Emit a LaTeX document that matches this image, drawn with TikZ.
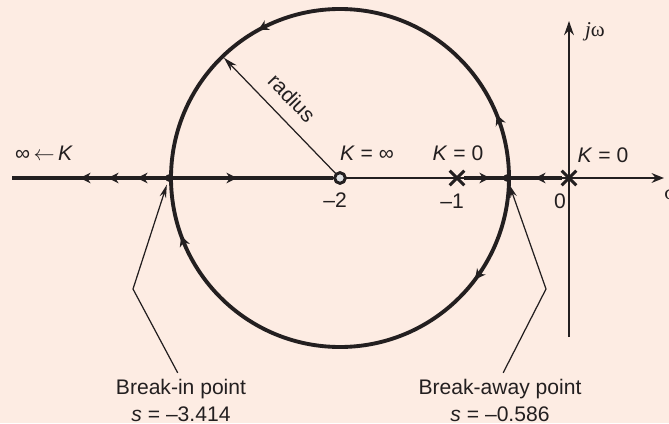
\documentclass[tikz,border=0pt]{standalone}
\usepackage{fontspec}
\setmainfont{Liberation Sans}
\newfontfamily\serifgreek{Liberation Serif}
\usepackage{tikz}
\usetikzlibrary{arrows.meta, calc, shapes.misc}
\definecolor{mybg}{RGB}{253,236,227}
\definecolor{myink}{RGB}{35,31,32}
\definecolor{mygray}{RGB}{222,224,226}
\tikzset{
  locus/.style={line width=2.7pt, color=myink},
  ring/.style={line width=2.2pt, color=myink},
  axis/.style={line width=1.3pt, color=myink},
  flow/.style={-{Stealth[length=6pt, width=6pt]}},
  pointer/.style={line width=0.7pt, color=myink, -{Stealth[length=7.5pt, width=3.8pt]}},
  pole/.style={cross out, draw=myink, line width=1.8pt, minimum size=2.3mm, inner sep=0pt},
  zero/.style={circle, draw=myink, fill=mygray, line width=1.6pt, minimum size=2.1mm, inner sep=0pt},
  bpoint/.style={circle, fill=myink, minimum size=1.5mm, inner sep=0pt},
  lbl/.style={font=\fontsize{12}{15.3}\selectfont, text=myink, inner sep=0pt},
  caption/.style={lbl, align=center, anchor=north}
}

\begin{document}
\begin{tikzpicture}[x=0.2mm, y=0.2mm]
  % Background
  \fill[mybg] (0,0) rectangle (669,423);
  \useasboundingbox (0,0) rectangle (669,423);

  % Poles, zero, break points
  \node[zero] (z2) at (340,245) {};
  \node[pole] (p1) at (457,245) {};
  \node[pole] (p0) at (569,245) {};
  \coordinate (breakin) at (169,245);
  \coordinate (breakaway) at (507,245);
  \coordinate (sleft) at (12,245);
  \coordinate (sright) at (664,245);
  \coordinate (wlow) at (569,86);
  \coordinate (whigh) at (569,402);

  % Axes
  \draw[axis, -{Stealth[length=7pt, width=5.5pt]}] (sleft) -- (sright);
  \draw[axis, -{Stealth[length=8pt, width=5.5pt]}] (wlow) -- (whigh);

  % Locus on the real axis
  \draw[locus] (sleft) -- (z2.west);
  \draw[locus] (p1) -- (p0);
  \foreach \x in {80,108,137} {
    \draw[locus, flow] (\x+3,245) -- (\x,245);
  }
  \draw[locus, flow] (234,245) -- (237,245);
  \draw[locus, flow] (487,245) -- (490,245);
  \draw[locus, flow] (538,245) -- (535,245);

  % Circle
  \draw[ring] (z2.center) circle[radius=169];
  \foreach \a in {19,116} {
    \draw[ring, flow] ($(z2.center)+(\a:169)$) arc[start angle=\a, end angle=\a+3, radius=169];
  }
  \foreach \a in {-157,-34} {
    \draw[ring, flow] ($(z2.center)+(\a:169)$) arc[start angle=\a, end angle=\a-3, radius=169];
  }
  \node[bpoint] (bin) at (breakin) {};
  \node[bpoint] (baway) at (breakaway) {};
  \node[zero] at (z2) {};

  % Radius
  \draw[pointer, -{Stealth[length=8pt, width=4.5pt]}] (z2) -- ($(z2.center)+(134:167)$);
  \node[lbl, rotate=-46] (rad) at (292,325) {radius};

  % Labels
  \node[lbl] (kinf) at (44,270) {∞\,$\leftarrow$\,\textit{K}};
  \node[lbl] (kzinf) at (367,270) {\textit{K} = ∞};
  \node[lbl] (kp1) at (458,270) {\textit{K} = 0};
  \node[lbl] (kp0) at (603,268) {\textit{K} = 0};
  \node[lbl] (tm2) at (335,223) {–2};
  \node[lbl] (tm1) at (452,222) {–1};
  \node[lbl] (t0) at (560,222) {0};
  \node[lbl] (sig) at (670,229) {\serifgreek σ};
  \node[lbl] (jw) at (595,391) {\serifgreek\textit{j}ω};

  % Break points
  \node[caption] (binlbl) at (181,44) {Break-in point\\\textit{s} = –3.414};
  \node[caption] (bawaylbl) at (500,44) {Break-away point\\\textit{s} = –0.586};
  \draw[pointer, shorten <=1.4mm, shorten >=1.4mm] (binlbl.north) -- (133,134) -- (bin.center);
  \draw[pointer, shorten <=1.4mm, shorten >=1.4mm] (bawaylbl.north) -- (546,134) -- (baway.center);
\end{tikzpicture}
\end{document}
